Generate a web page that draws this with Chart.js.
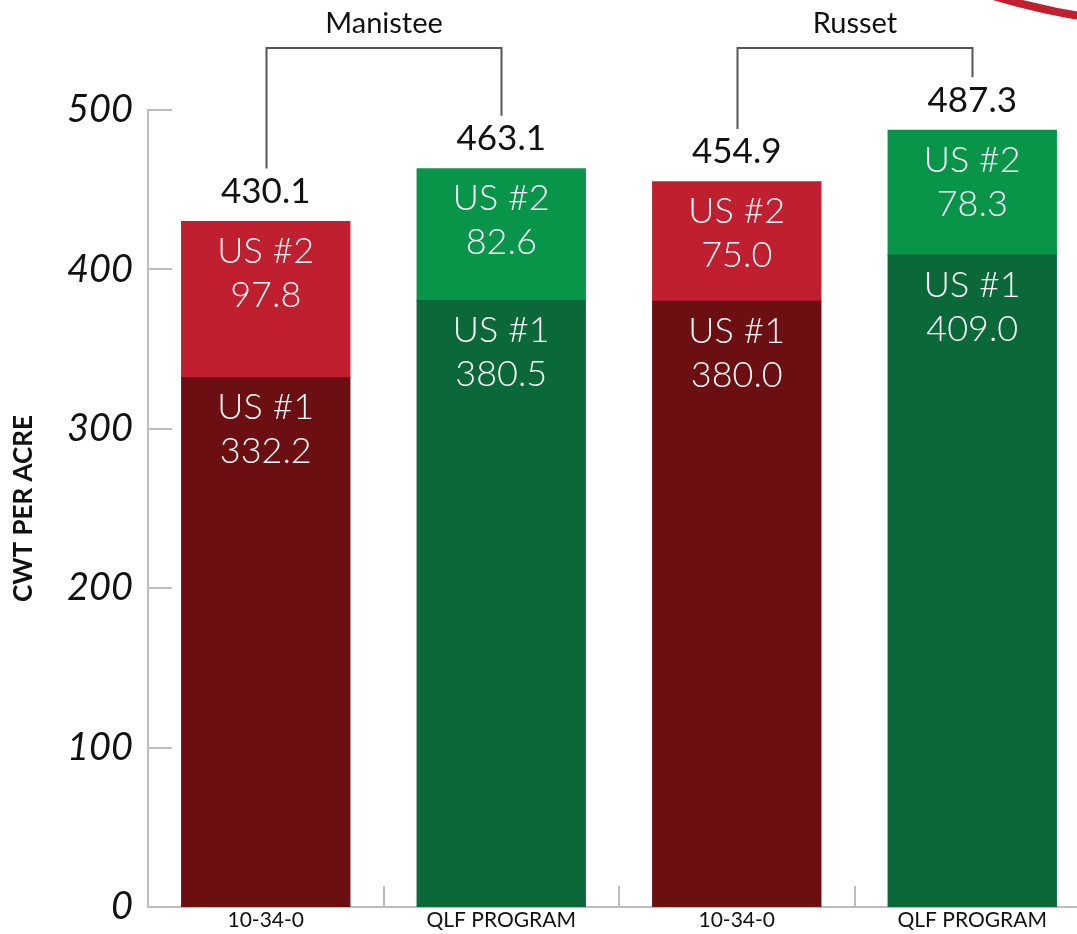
<!DOCTYPE html>
<html>
<head>
<meta charset="utf-8">
<script src="https://cdn.jsdelivr.net/npm/chart.js@4/dist/chart.umd.min.js"></script>
<style>
  html, body { margin: 0; padding: 0; background: #fff; overflow: hidden; }
  #wrap { width: 1077px; height: 934px; overflow: hidden; position: relative; }
  canvas { position: absolute; left: 0; top: 0; }
</style>
</head>
<body>
<div id="wrap"><canvas id="potatoChart" width="1090" height="934"></canvas></div>
<script>
// data
const categories = ["10-34-0", "QLF PROGRAM", "10-34-0", "QLF PROGRAM"];
const groups = ["Manistee", "Russet"];
const us1 = [332.2, 380.5, 380.0, 409.0];
const us2 = [97.8, 82.6, 75.0, 78.3];
const totals = [430.1, 463.1, 454.9, 487.3];
const segNames = ["US #1", "US #2"];
const yTicks = [0, 100, 200, 300, 400, 500];

const darkCols = ["#6c0f12", "#0a6839", "#6c0f12", "#0a6839"];
const lightCols = ["#c01f2f", "#08954a", "#c01f2f", "#08954a"];
const axisGrey = "#bdbdbd";
const FONT = "Lato, 'Open Sans', sans-serif";

const decor = {
  id: 'decor',
  afterDatasetsDraw(chart) {
    const { ctx, chartArea, scales: { x, y } } = chart;
    ctx.save();

    // short inward ticks
    ctx.strokeStyle = axisGrey;
    ctx.lineWidth = 2;
    y.ticks.forEach(t => {
      if (t.value === 0) return;
      const py = Math.round(y.getPixelForValue(t.value));
      ctx.beginPath();
      ctx.moveTo(chartArea.left, py);
      ctx.lineTo(chartArea.left + 24, py);
      ctx.stroke();
    });
    for (let i = 0; i < categories.length - 1; i++) {
      const px = Math.round((x.getPixelForValue(i) + x.getPixelForValue(i + 1)) / 2);
      ctx.beginPath();
      ctx.moveTo(px, chartArea.bottom);
      ctx.lineTo(px, chartArea.bottom - 21);
      ctx.stroke();
    }

    // labels inside segments
    ctx.fillStyle = "#fff";
    ctx.textAlign = "center";
    ctx.textBaseline = "middle";
    ctx.font = "300 36px " + FONT;
    chart.data.datasets.forEach((ds, di) => {
      chart.getDatasetMeta(di).data.forEach((bar, i) => {
        ctx.fillText(segNames[di], bar.x, bar.y + 30);
        ctx.fillText(ds.data[i].toFixed(1), bar.x, bar.y + 74);
      });
    });

    // totals above bars
    ctx.fillStyle = "#111";
    ctx.font = "400 35px " + FONT;
    const topMeta = chart.getDatasetMeta(1).data;
    totals.forEach((v, i) => {
      ctx.fillText(v.toFixed(1), topMeta[i].x, y.getPixelForValue(v) - 30);
    });

    // group brackets
    const bracketY = chartArea.top - 62;
    ctx.strokeStyle = "#555";
    ctx.lineWidth = 2;
    groups.forEach((g, gi) => {
      const a = gi * 2, b = gi * 2 + 1;
      const xa = Math.round(x.getPixelForValue(a)) + 0.5;
      const xb = Math.round(x.getPixelForValue(b)) + 0.5;
      ctx.beginPath();
      ctx.moveTo(xa, y.getPixelForValue(totals[a]) - 53);
      ctx.lineTo(xa, bracketY);
      ctx.lineTo(xb, bracketY);
      ctx.lineTo(xb, y.getPixelForValue(totals[b]) - 53);
      ctx.stroke();
      ctx.fillStyle = "#111";
      ctx.font = "400 29px " + FONT;
      ctx.fillText(g, (xa + xb) / 2, chartArea.top - 86);
    });

    // red swoosh in the corner
    ctx.strokeStyle = "#c01f2f";
    ctx.lineWidth = 8;
    ctx.beginPath();
    ctx.arc(1200, -700, 726, Math.PI * 0.5, Math.PI * 0.75);
    ctx.stroke();

    ctx.restore();
  }
};

const ctx = document.getElementById('potatoChart').getContext('2d');
new Chart(ctx, {
  type: 'bar',
  data: {
    labels: categories,
    datasets: [
      { label: segNames[0], data: us1, backgroundColor: darkCols },
      { label: segNames[1], data: us2, backgroundColor: lightCols }
    ]
  },
  options: {
    responsive: false,
    animation: false,
    devicePixelRatio: 1,
    layout: { padding: { top: 110, right: 0, bottom: 0, left: 0 } },
    plugins: {
      legend: { display: false },
      tooltip: { enabled: false }
    },
    datasets: { bar: { categoryPercentage: 1, barPercentage: 0.715, borderWidth: 0, inflateAmount: 0.5 } },
    scales: {
      x: {
        stacked: true,
        grid: { display: false, drawTicks: false },
        border: { color: axisGrey, width: 2 },
        ticks: { color: "#111", padding: 3, font: { family: FONT, size: 21, lineHeight: 1.0 } }
      },
      y: {
        stacked: true,
        min: 0,
        max: 500,
        afterFit(scale) { scale.width = 148; },
        afterBuildTicks(scale) { scale.ticks = yTicks.map(v => ({ value: v })); },
        grid: { display: false, drawTicks: false },
        border: { color: axisGrey, width: 2 },
        ticks: {
          color: "#111",
          padding: 15,
          font: { family: FONT, size: 38, style: 'italic', lineHeight: 0.5 }
        },
        title: {
          display: true,
          text: "CWT PER ACRE",
          color: "#111",
          padding: { top: 8, bottom: 0 },
          font: { family: FONT, size: 26, weight: 'bold' }
        }
      }
    }
  },
  plugins: [decor]
});
</script>
</body>
</html>
